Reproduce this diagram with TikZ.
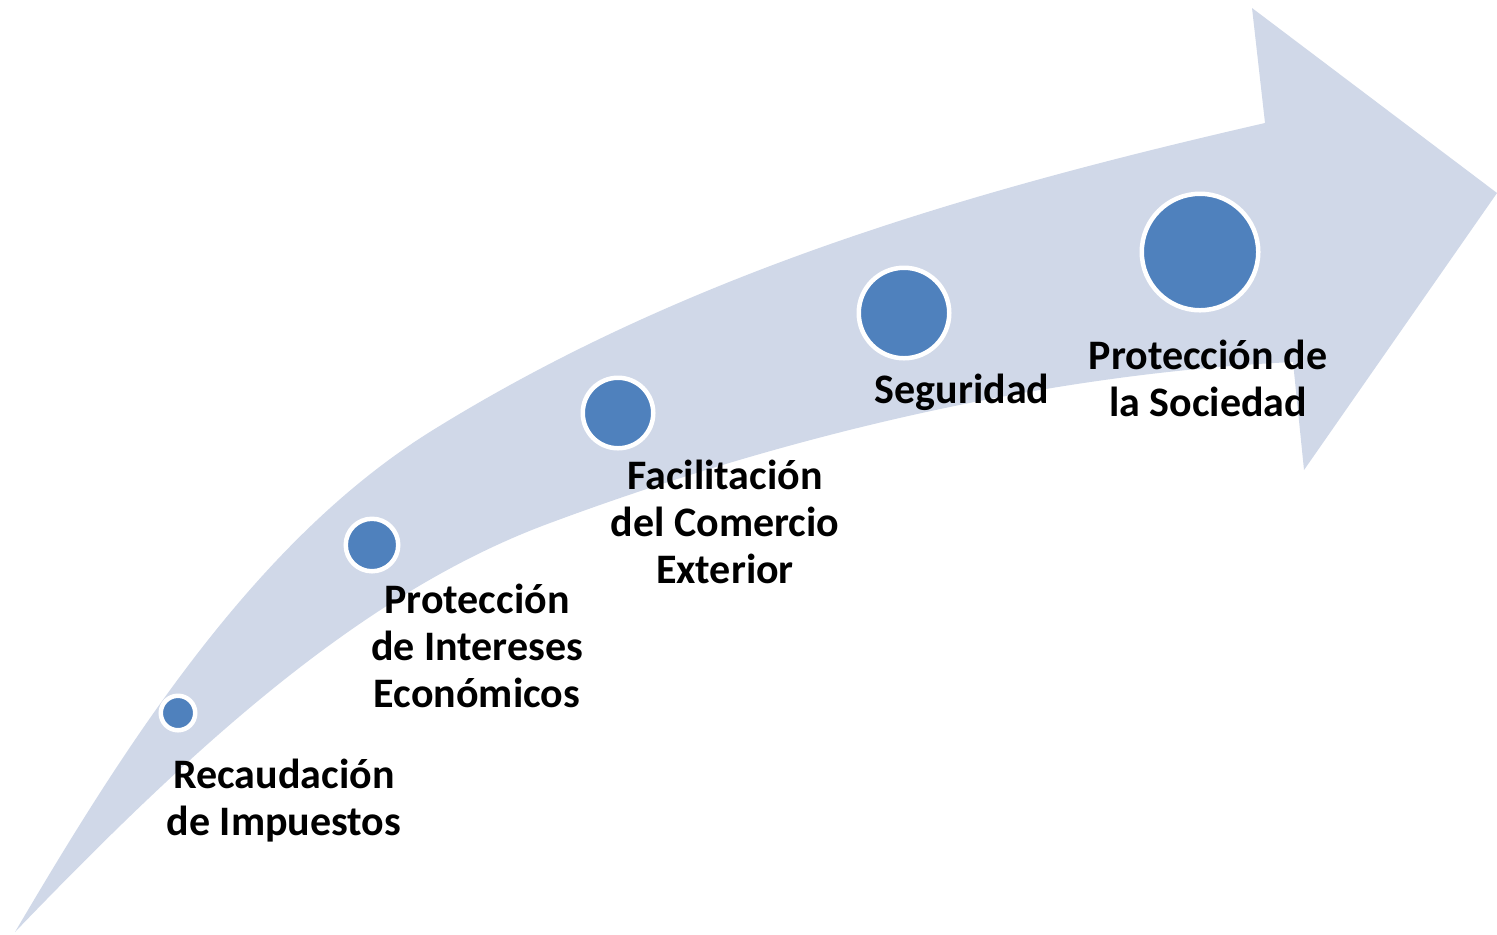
\documentclass[tikz,border=0pt]{standalone}
\usepackage{fontspec}
\setmainfont{Carlito}
\usepackage{tikz}

\definecolor{bandgray}{HTML}{D0D8E8}
\definecolor{dotblue}{HTML}{4F81BD}

\begin{document}
\begin{tikzpicture}[x=0.5pt,y=-0.5pt,
  dot/.style={circle,fill=dotblue,draw=white,line width=2.25pt,inner sep=0pt},
  lbl/.style={align=center,inner sep=0pt,anchor=base,font=\bfseries\fontsize{21}{23.5}\selectfont}]
\useasboundingbox (0,0) rectangle (1497,934);
\fill[bandgray] (15,932) .. controls (125,745) and (255,540) .. (433,430)
  .. controls (688,272) and (973,190) .. (1265,123)
  -- (1252,8) -- (1497,193) -- (1304,470) -- (1293,362)
  .. controls (1043,374) and (784,436) .. (550,523)
  .. controls (360,593) and (190,750) .. (15,932) -- cycle;
\node[dot,minimum size=17.25pt] (p1) at (178,713) {};
\node[dot,minimum size=26.25pt] (p2) at (372,545) {};
\node[dot,minimum size=35.25pt] (p3) at (618,413) {};
\node[dot,minimum size=45.25pt] (p4) at (904,313) {};
\node[dot,minimum size=58.25pt] (p5) at (1200,252) {};
\node[lbl] (t1) at (284,835) {Recaudación\\de Impuestos};
\node[lbl] (t2) at (477,707) {Protección\\de Intereses\\Económicos};
\node[lbl] (t3) at (725,583) {Facilitación\\del Comercio\\Exterior};
\node[lbl] (t4) at (962,403) {Seguridad};
\node[lbl] (t5) at (1208,416) {Protección de\\la Sociedad};
\end{tikzpicture}
\end{document}
